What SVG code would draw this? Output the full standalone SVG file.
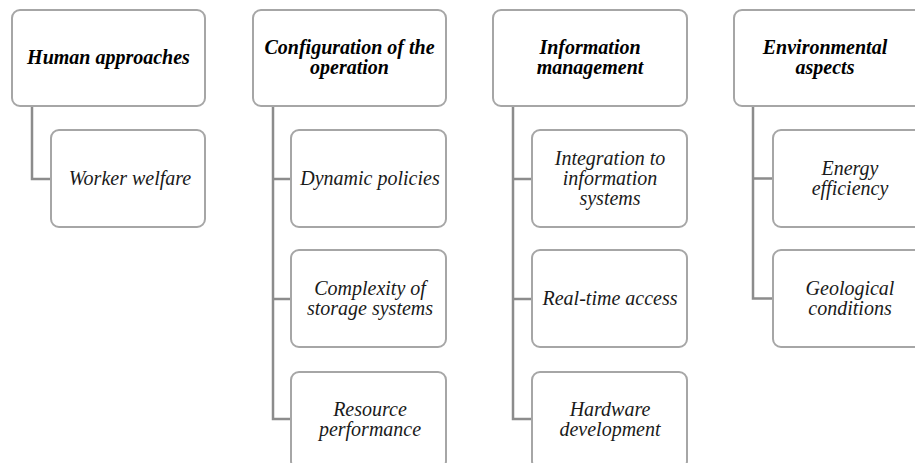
<svg xmlns="http://www.w3.org/2000/svg" width="915" height="463" viewBox="0 0 915 463">
<style>
.box{fill:#fff;stroke:#a6a6a6;stroke-width:2}
.con{fill:none;stroke:#8c8c8c;stroke-width:2.5}
text{font-family:'Liberation Serif','DejaVu Serif',serif;font-size:20px;font-style:italic;text-anchor:middle;fill:#1a1a1a}
.h{font-weight:bold;fill:#000}
</style>
<rect width="915" height="463" fill="#fff"/>
<g id="connectors">
<path class="con" d="M32 106V179H51"/>
<path class="con" d="M273 106V419H291M273 179H291M273 299H291"/>
<path class="con" d="M513 106V419H532M513 179H532M513 299H532"/>
<path class="con" d="M753 106V298.5H773M753 178.5H773"/>
</g>
<g id="human">
<rect class="box" x="12" y="10" width="193" height="96" rx="8"/>
<text class="h" x="108.5" y="64">Human approaches</text>
</g>
<g id="worker">
<rect class="box" x="51" y="130" width="154" height="97" rx="8"/>
<text x="130" y="185">Worker welfare</text>
</g>
<g id="config">
<rect class="box" x="253" y="10" width="193" height="96" rx="8"/>
<text class="h" x="349.5" y="54">Configuration of the</text>
<text class="h" x="349.5" y="74">operation</text>
</g>
<g id="dynamic">
<rect class="box" x="291" y="130" width="155" height="97" rx="8"/>
<text x="370" y="185">Dynamic policies</text>
</g>
<g id="complexity">
<rect class="box" x="291" y="250" width="155" height="97" rx="8"/>
<text x="370" y="295">Complexity of</text>
<text x="370" y="315">storage systems</text>
</g>
<g id="resource">
<rect class="box" x="291" y="372" width="155" height="97" rx="8"/>
<text x="370" y="416">Resource</text>
<text x="370" y="436">performance</text>
</g>
<g id="info">
<rect class="box" x="493" y="10" width="194" height="96" rx="8"/>
<text class="h" x="590" y="54">Information</text>
<text class="h" x="590" y="74">management</text>
</g>
<g id="integration">
<rect class="box" x="532" y="130" width="155" height="97" rx="8"/>
<text x="610" y="165">Integration to</text>
<text x="610" y="185">information</text>
<text x="610" y="205">systems</text>
</g>
<g id="realtime">
<rect class="box" x="532" y="250" width="155" height="97" rx="8"/>
<text x="610" y="305">Real-time access</text>
</g>
<g id="hardware">
<rect class="box" x="532" y="372" width="155" height="97" rx="8"/>
<text x="610" y="416">Hardware</text>
<text x="610" y="436">development</text>
</g>
<g id="env">
<rect class="box" x="734" y="10" width="193" height="96" rx="8"/>
<text class="h" x="825" y="54">Environmental</text>
<text class="h" x="825" y="74">aspects</text>
</g>
<g id="energy">
<rect class="box" x="773" y="130" width="154" height="97" rx="8"/>
<text x="850" y="175">Energy</text>
<text x="850" y="195">efficiency</text>
</g>
<g id="geo">
<rect class="box" x="773" y="250" width="154" height="97" rx="8"/>
<text x="850" y="295">Geological</text>
<text x="850" y="315">conditions</text>
</g>
</svg>
